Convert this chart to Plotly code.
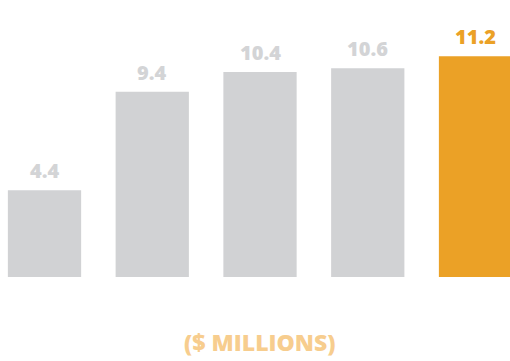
import plotly.graph_objects as go

categories = [0, 1, 2, 3, 4]
values = [4.4, 9.4, 10.4, 10.6, 11.2]
labels = ["4.4", "9.4", "10.4", "10.6", "11.2"]
bar_colors = ["#D1D2D4", "#D1D2D4", "#D1D2D4", "#D1D2D4", "#EBA126"]
label_colors = ["#D3D4D6", "#D3D4D6", "#D3D4D6", "#D3D4D6", "#EBA126"]
axis_title = "($ MILLIONS)"

fig = go.Figure()
fig.add_trace(go.Bar(x=categories, y=values, width=0.68,
                     marker=dict(color=bar_colors, line=dict(width=0)),
                     hoverinfo="skip"))

for c, v, t, col in zip(categories, values, labels, label_colors):
    fig.add_annotation(x=c, y=v, text=t, showarrow=False, yanchor="bottom",
                       yshift=4, font=dict(family="Open Sans", size=20, color=col, weight=800))

fig.add_annotation(x=2, y=-0.236, xref="x", yref="paper", text=axis_title, showarrow=False,
                   yanchor="middle", font=dict(family="Open Sans", size=23, color="#F7CD8E", weight=800))

fig.update_layout(
    width=510, height=361, margin=dict(l=0, r=0, t=0, b=84),
    paper_bgcolor="white", plot_bgcolor="white", showlegend=False,
    xaxis=dict(range=[-0.413, 4.320], visible=False, fixedrange=True),
    yaxis=dict(range=[0, 277 / 19.7], visible=False, fixedrange=True),
)
fig.write_html("out.html")
